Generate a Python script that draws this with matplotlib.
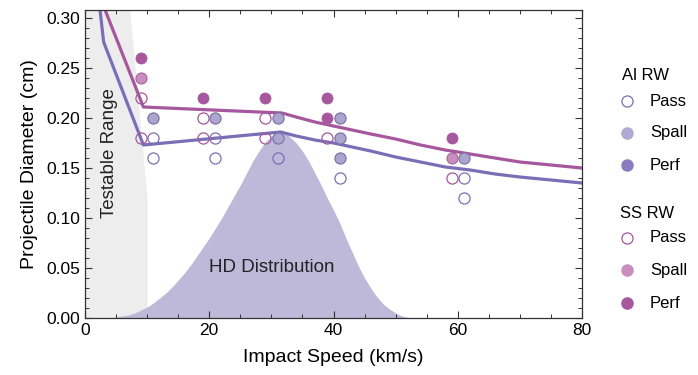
import matplotlib
matplotlib.use("Agg")
import matplotlib.pyplot as plt
from matplotlib.ticker import MultipleLocator, FormatStrFormatter

plt.rcParams['font.family'] = ['Liberation Sans', 'DejaVu Sans']

# ---- data ----
# SS rear wall test points (speed km/s, diameter cm)
ss_pass_x = [9, 9, 19, 19, 29, 29, 39, 59]
ss_pass_y = [0.22, 0.18, 0.20, 0.18, 0.20, 0.18, 0.18, 0.14]
ss_spall_x = [9, 59]
ss_spall_y = [0.24, 0.16]
ss_perf_x = [9, 19, 29, 39, 39, 59]
ss_perf_y = [0.26, 0.22, 0.22, 0.22, 0.20, 0.18]

# Al rear wall test points
al_pass_x = [11, 11, 21, 21, 31, 41, 61, 61]
al_pass_y = [0.18, 0.16, 0.18, 0.16, 0.16, 0.14, 0.14, 0.12]
al_perf_x = [11, 21, 31, 31, 41, 41, 41, 61]
al_perf_y = [0.20, 0.20, 0.20, 0.18, 0.20, 0.18, 0.16, 0.16]

# ballistic limit curves
ss_curve_x = [2.6, 9.4, 31.7, 34, 37, 40, 43, 46, 50, 54, 58, 62, 66, 70, 75, 80]
ss_curve_y = [0.318, 0.211, 0.205, 0.201, 0.196, 0.192, 0.188, 0.184, 0.179, 0.173, 0.168, 0.164, 0.160, 0.156, 0.153, 0.150]
al_curve_x = [2.2, 3.0, 9.4, 31.5, 34, 37, 40, 43, 46, 50, 54, 58, 62, 66, 70, 75, 80]
al_curve_y = [0.320, 0.276, 0.173, 0.186, 0.182, 0.178, 0.175, 0.171, 0.167, 0.161, 0.156, 0.151, 0.148, 0.144, 0.141, 0.138, 0.135]

# HD speed distribution (scaled)
hd_x = [4, 5, 6, 7, 8, 9, 10, 11, 12, 13, 14, 15, 16, 17, 18, 19, 20, 21, 22, 23, 24, 25, 26, 27, 28, 29,
        30, 30.5, 31, 31.5, 32, 32.5, 33, 34, 35, 36, 37, 38, 39, 40, 41, 42, 43, 44, 45, 46, 47, 48, 49,
        50, 51, 52, 53]
hd_y = [0.0, 0.001, 0.002, 0.003, 0.005, 0.008, 0.011, 0.015, 0.020, 0.025, 0.031, 0.038, 0.045, 0.053,
        0.062, 0.071, 0.080, 0.090, 0.100, 0.111, 0.122, 0.133, 0.145, 0.157, 0.167, 0.176,
        0.182, 0.184, 0.186, 0.186, 0.186, 0.184, 0.181, 0.175, 0.167, 0.157, 0.145, 0.133, 0.120,
        0.108, 0.095, 0.080, 0.066, 0.052, 0.040, 0.030, 0.021, 0.014, 0.009, 0.005, 0.002, 0.0005, 0.0]

# testable range boundary
test_x = [0, 7.2, 10, 10]
test_y = [0.31, 0.308, 0.12, 0.0]

# ---- styles ----
ss_col = '#a6579d'
ss_spall_col = '#c98dbf'
al_col = '#7a6fb6'
al_fill = '#aba5cf'
al_edge = '#7d76a6'
al_spall_leg = '#b2aad6'
al_perf_leg = '#8a7cc0'
hd_col = '#bfb9d9'
gray = '#ededed'

fig = plt.figure(figsize=(6.98, 3.75), dpi=100)
ax = fig.add_axes([85/698, 57/375, 497/698, 308/375])

ax.fill_between(test_x, test_y, 0, color=gray, lw=0, zorder=0)
ax.fill_between(hd_x, hd_y, 0, color=hd_col, lw=0, zorder=1)

ax.plot(ss_curve_x, ss_curve_y, color=ss_col, lw=2.3, zorder=2)
ax.plot(al_curve_x, al_curve_y, color=al_col, lw=2.3, zorder=2)

ms = 8
ax.plot(ss_pass_x, ss_pass_y, 'o', ms=ms, mfc='none', mec=ss_col, mew=0.9, zorder=3)
ax.plot(ss_spall_x, ss_spall_y, 'o', ms=ms, mfc=ss_spall_col, mec='#9b5f92', mew=0.7, zorder=3)
ax.plot(ss_perf_x, ss_perf_y, 'o', ms=ms, mfc=ss_col, mec=ss_col, mew=0.5, zorder=3)
ax.plot(al_pass_x, al_pass_y, 'o', ms=ms, mfc='none', mec=al_col, mew=0.9, zorder=3)
ax.plot(al_perf_x, al_perf_y, 'o', ms=ms, mfc=al_fill, mec=al_edge, mew=0.9, zorder=3)

ax.text(4.0, 0.165, 'Testable Range', rotation=90, ha='center', va='center', fontsize=13.5, color='#222222', zorder=4)
ax.text(30, 0.050, 'HD Distribution', ha='center', va='center', fontsize=13.5, color='#222222', zorder=4)

ax.set_xlim(0, 80)
ax.set_ylim(0, 0.308)
ax.xaxis.set_major_locator(MultipleLocator(20))
ax.xaxis.set_minor_locator(MultipleLocator(5))
ax.yaxis.set_major_locator(MultipleLocator(0.05))
ax.yaxis.set_minor_locator(MultipleLocator(0.01))
ax.yaxis.set_major_formatter(FormatStrFormatter('%.2f'))
ax.tick_params(which='both', direction='in', top=True, right=True, labelsize=12.5, color='#333333')
ax.tick_params(which='major', length=5, width=0.8)
ax.tick_params(which='minor', length=3, width=0.7)
for s in ax.spines.values():
    s.set_color('#333333')
    s.set_linewidth(0.9)
ax.set_xlabel('Impact Speed (km/s)', fontsize=14, labelpad=8)
ax.set_ylabel('Projectile Diameter (cm)', fontsize=14, labelpad=6)

# ---- legend (manual) ----
lax = fig.add_axes([0, 0, 1, 1])
lax.set_xlim(0, 698)
lax.set_ylim(375, 0)
lax.axis('off')
mx, tx = 627, 650
lax.text(622, 75, 'Al RW', fontsize=12, va='center', ha='left')
lax.plot([mx], [101], 'o', ms=8, mfc='none', mec=al_col, mew=0.9)
lax.text(tx, 101, 'Pass', fontsize=12, va='center')
lax.plot([mx], [133], 'o', ms=8, mfc=al_spall_leg, mec=al_spall_leg)
lax.text(tx, 133, 'Spall', fontsize=12, va='center')
lax.plot([mx], [165], 'o', ms=8, mfc=al_perf_leg, mec=al_perf_leg)
lax.text(tx, 165, 'Perf', fontsize=12, va='center')
lax.text(620, 213, 'SS RW', fontsize=12, va='center', ha='left')
lax.plot([mx], [238], 'o', ms=8, mfc='none', mec=ss_col, mew=0.9)
lax.text(tx, 238, 'Pass', fontsize=12, va='center')
lax.plot([mx], [270], 'o', ms=8, mfc=ss_spall_col, mec=ss_spall_col)
lax.text(tx, 270, 'Spall', fontsize=12, va='center')
lax.plot([mx], [303], 'o', ms=8, mfc=ss_col, mec=ss_col)
lax.text(tx, 303, 'Perf', fontsize=12, va='center')

fig.savefig('out.png', dpi=100)
